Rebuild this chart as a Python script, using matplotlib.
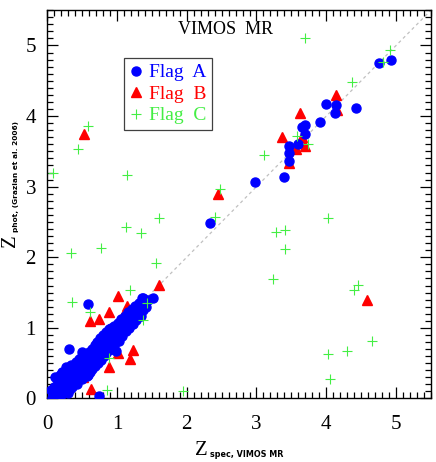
import matplotlib
matplotlib.use("Agg")
import matplotlib.pyplot as plt
from matplotlib.ticker import MultipleLocator

# Flag A (blue dots): main cluster + outliers
flag_a_x = [0.09, 0.12, 0.10, 0.15, 0.14, 0.18, 0.20, 0.19, 0.22, 0.24, 0.25, 0.27, 0.28, 0.30,
            0.31, 0.33, 0.34, 0.35, 0.36, 0.38, 0.38, 0.40, 0.41, 0.42, 0.43, 0.44, 0.45, 0.46,
            0.47, 0.48, 0.49, 0.50, 0.50, 0.51, 0.52, 0.53, 0.54, 0.55, 0.56, 0.57, 0.58, 0.59,
            0.60, 0.60, 0.61, 0.62, 0.63, 0.64, 0.64, 0.65, 0.66, 0.67, 0.68, 0.68, 0.69, 0.70,
            0.71, 0.72, 0.72, 0.73, 0.74, 0.75, 0.76, 0.76, 0.77, 0.78, 0.79, 0.80, 0.80, 0.81,
            0.82, 0.83, 0.84, 0.84, 0.85, 0.86, 0.87, 0.88, 0.88, 0.89, 0.90, 0.91, 0.92, 0.92,
            0.93, 0.94, 0.95, 0.96, 0.97, 0.98, 0.99, 1.00, 1.01, 1.02, 1.03, 1.04, 1.05, 1.06,
            1.07, 1.08, 1.09, 1.10, 1.11, 1.12, 1.13, 1.14, 1.15, 1.16, 1.17, 1.18, 1.19, 1.20,
            1.21, 1.22, 1.23, 1.24, 1.25, 1.26, 1.27, 1.28, 1.30, 1.31, 1.32, 1.33, 1.34, 1.36,
            1.37, 1.38, 1.40, 1.42, 1.44, 1.52, 1.36,
            0.07, 0.12, 0.22, 0.30, 0.16, 0.26, 0.33, 0.06, 0.11,
            0.58, 0.32, 0.50, 0.99, 0.58, 0.74,
            2.34, 2.98, 3.40, 3.47, 3.47, 3.47, 3.60, 3.65, 3.70, 3.70, 3.91, 4.00, 4.12, 4.14,
            4.43, 4.75, 4.92]
flag_a_y = [0.05, 0.10, 0.16, 0.20, 0.27, 0.12, 0.23, 0.33, 0.38, 0.18, 0.28, 0.45, 0.35, 0.22,
            0.40, 0.30, 0.48, 0.16, 0.36, 0.25, 0.44, 0.33, 0.52, 0.40, 0.20, 0.46, 0.30, 0.56,
            0.38, 0.43, 0.50, 0.28, 0.60, 0.45, 0.36, 0.53, 0.41, 0.62, 0.48, 0.32, 0.56, 0.44,
            0.66, 0.52, 0.38, 0.60, 0.47, 0.70, 0.55, 0.42, 0.63, 0.52, 0.76, 0.58, 0.46, 0.68,
            0.55, 0.80, 0.62, 0.50, 0.72, 0.60, 0.86, 0.67, 0.54, 0.78, 0.65, 0.90, 0.72, 0.60,
            0.83, 0.70, 0.94, 0.77, 0.64, 0.87, 0.74, 0.98, 0.81, 0.68, 0.91, 0.79, 1.00, 0.86,
            0.73, 0.95, 0.83, 1.03, 0.90, 0.78, 0.98, 0.87, 1.07, 0.94, 0.82, 1.02, 0.91, 1.12,
            0.99, 0.88, 1.08, 0.96, 1.17, 1.04, 0.95, 1.13, 1.02, 1.22, 1.09, 1.00, 1.18, 1.08,
            1.27, 1.14, 1.06, 1.22, 1.13, 1.31, 1.20, 1.11, 1.27, 1.18, 1.35, 1.24, 1.17, 1.30,
            1.42, 1.25, 1.35, 1.30, 1.40, 1.42, 1.42,
            0.00, 0.02, 0.06, 0.08, 0.04, 0.10, 0.14, 0.12, 0.30,
            1.34, 0.70, 0.66, 0.67, 0.33, 0.04,
            2.48, 3.06, 3.13, 3.37, 3.47, 3.58, 3.61, 3.84, 3.75, 3.88, 3.92, 4.17, 4.05, 4.15,
            4.11, 4.75, 4.79]

# Flag B (red triangles)
flag_b_x = [0.53, 2.45, 1.60, 1.02, 0.61, 0.75, 0.89, 1.07, 1.23, 1.02, 1.19, 0.89, 0.52,
            0.63, 0.17, 1.14, 3.36, 3.65, 3.70, 3.57, 3.47, 3.62, 4.14, 4.16, 4.59, 0.25, 0.70]
flag_b_y = [3.74, 2.89, 1.61, 1.45, 1.10, 1.12, 1.23, 1.16, 0.69, 0.65, 0.56, 0.45, 0.31,
            0.14, 0.08, 1.31, 3.70, 3.70, 3.57, 3.53, 3.33, 4.04, 4.30, 4.08, 1.39, 0.36, 0.60]

# Flag C (green crosses)
flag_c_x = [0.08, 0.59, 0.45, 1.15, 2.48, 2.41, 1.60, 1.13, 1.34, 0.77, 0.34, 1.56, 1.19,
            0.35, 0.61, 1.37, 0.88, 0.86, 1.95, 1.43, 3.70, 4.91, 4.81, 4.37, 3.58, 3.74,
            3.11, 4.03, 3.28, 3.41, 3.41, 3.24, 4.45, 4.39, 4.65, 4.30, 4.03, 4.05]
flag_c_y = [3.19, 3.86, 3.53, 3.16, 2.96, 2.57, 2.55, 2.43, 2.34, 2.13, 2.06, 1.92, 1.54,
            1.36, 1.22, 1.11, 0.58, 0.12, 0.10, 1.35, 5.11, 4.93, 4.76, 4.48, 3.72, 3.60,
            3.45, 2.56, 2.36, 2.39, 2.12, 1.69, 1.61, 1.54, 0.81, 0.67, 0.63, 0.28]

plt.rcParams['font.family'] = 'Liberation Serif'

fig = plt.figure(figsize=(4.36, 4.62), dpi=100)
ax = fig.add_axes([0.108, 0.1375, 0.8805, 0.8405])

blue = '#0000ff'
red = '#ff0000'
green = '#44ee44'

ax.plot([0, 5.5], [0, 5.5], color='#c0c0c0', lw=0.9, ls=(0, (2.5, 2.5)), zorder=1)

ax.plot(flag_b_x, flag_b_y, ls='none', marker='^', ms=7, color=red, mec=red, zorder=2,
        label='Flag  B')
ax.plot(flag_a_x, flag_a_y, ls='none', marker='o', ms=6.5, color=blue, mec=blue, zorder=3,
        label='Flag  A')
ax.plot(flag_c_x, flag_c_y, ls='none', marker='+', ms=7, mew=0.8, color=green, zorder=4,
        label='Flag  C')

ax.set_xlim(0, 5.5)
ax.set_ylim(0, 5.5)
ax.xaxis.set_major_locator(MultipleLocator(1))
ax.yaxis.set_major_locator(MultipleLocator(1))
ax.xaxis.set_minor_locator(MultipleLocator(0.1))
ax.yaxis.set_minor_locator(MultipleLocator(0.1))
ax.tick_params(which='both', direction='in', top=True, right=True, labelsize=15, width=0.9)
ax.tick_params(which='major', length=8)
ax.tick_params(which='minor', length=4)
ax.tick_params(axis='x', which='major', pad=12)
ax.tick_params(axis='y', which='major', pad=8)
for s in ax.spines.values():
    s.set_linewidth(1)

# axis labels: big "Z" with a small bold sans subscript
zx = fig.text(208 / 436, 7 / 462, 'Z', ha='right', va='baseline', fontsize=15)
ax.annotate('spec, VIMOS MR', xy=(1, 0), xycoords=zx, xytext=(1.5, 0.5),
            textcoords='offset points', ha='left', va='bottom', fontsize=5.8,
            family='DejaVu Sans', weight='bold', annotation_clip=False)

zy = fig.text(19.5 / 436, 1 - 247 / 462, 'Z', rotation=90, ha='right', va='bottom', fontsize=15)
ax.annotate('phot, (Grazian et al. 2006)', xy=(1, 1), xycoords=zy, xytext=(-0.5, 1.5),
            textcoords='offset points', ha='right', va='bottom', rotation=90, fontsize=5.3,
            family='DejaVu Sans', weight='bold', annotation_clip=False)

ax.text(2.55, 5.22, 'VIMOS  MR', fontsize=13, ha='center', va='center')

handles, labels = ax.get_legend_handles_labels()
order = [1, 0, 2]
leg = ax.legend([handles[i] for i in order], [labels[i] for i in order],
                loc='upper left', bbox_to_anchor=(0.2, 0.877), fontsize=14,
                handlelength=0.6, handletextpad=0.4, borderpad=0.3, labelspacing=0.2,
                fancybox=False, framealpha=1, edgecolor='#404040', borderaxespad=0)
leg.get_frame().set_linewidth(0.9)
for t, c in zip(leg.get_texts(), [blue, red, green]):
    t.set_color(c)

fig.savefig('out.png', dpi=100)
